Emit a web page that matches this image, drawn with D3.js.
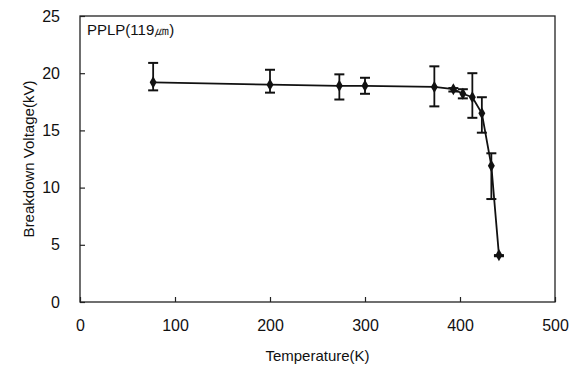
<!DOCTYPE html>
<html>
<head>
<meta charset="utf-8">
<script src="https://cdn.jsdelivr.net/npm/d3@7"></script>
<style>
  body { margin: 0; background: #fff; }
  svg text { font-family: "Liberation Sans", Arial, sans-serif; fill: #111; }
</style>
</head>
<body>
<svg id="chart" width="575" height="369"></svg>
<script>
// Temperature (K) and breakdown voltage (kV)
const temps = [77, 200, 273, 300, 373, 393, 403, 413, 423, 433, 441];
const voltage = [19.2, 19.0, 18.9, 18.9, 18.8, 18.6, 18.2, 17.9, 16.5, 11.9, 4.1];
const errHigh = [20.9, 20.3, 19.9, 19.6, 20.6, 18.7, 18.6, 20.0, 17.9, 13.0, 4.1];
const errLow = [18.5, 18.3, 17.7, 18.2, 17.1, 18.4, 17.8, 16.1, 14.8, 9.0, 4.0];
const xTicks = [0, 100, 200, 300, 400, 500];
const yTicks = [0, 5, 10, 15, 20, 25];

const svg = d3.select("#chart");
const margin = { top: 16, right: 20, bottom: 67, left: 80 };
const width = 575 - margin.left - margin.right;
const height = 369 - margin.top - margin.bottom;

const g = svg.append("g").attr("transform", `translate(${margin.left},${margin.top})`);

const x = d3.scaleLinear().domain([0, 500]).range([0, width]);
const y = d3.scaleLinear().domain([0, 25]).range([height, 0]);

// frame
g.append("rect")
  .attr("width", width)
  .attr("height", height)
  .attr("fill", "none")
  .attr("stroke", "#222")
  .attr("stroke-width", 1.3);

// X axis (ticks point inward)
g.append("g")
  .attr("class", "x-axis")
  .attr("transform", `translate(0,${height})`)
  .call(d3.axisBottom(x).tickValues(xTicks).tickSizeInner(-5).tickSizeOuter(0).tickPadding(18))
  .call((ax) => ax.select(".domain").remove())
  .selectAll("text")
  .style("font-size", "16px");

// Y axis
g.append("g")
  .attr("class", "y-axis")
  .call(d3.axisLeft(y).tickValues(yTicks).tickSizeInner(-5).tickSizeOuter(0).tickPadding(20))
  .call((ax) => ax.select(".domain").remove())
  .selectAll("text")
  .style("font-size", "16px");

g.selectAll(".x-axis line, .y-axis line").attr("stroke", "#222").attr("stroke-width", 1.2);

// axis titles
svg.append("text")
  .attr("x", margin.left + width / 2)
  .attr("y", 361)
  .attr("text-anchor", "middle")
  .style("font-size", "15px")
  .text("Temperature(K)");

svg.append("text")
  .attr("transform", `translate(34,${margin.top + height / 2}) rotate(-90)`)
  .attr("text-anchor", "middle")
  .style("font-size", "15px")
  .text("Breakdown Voltage(kV)");

// sample label
g.append("text")
  .attr("x", 7)
  .attr("y", 19)
  .style("font-size", "15px")
  .text("PPLP(119㎛)");

const data = temps.map((t, i) => ({ t, v: voltage[i], hi: errHigh[i], lo: errLow[i] }));

// error bars
const eb = g.selectAll(".err").data(data).enter().append("g").attr("class", "err");
eb.append("line")
  .attr("x1", (d) => x(d.t)).attr("x2", (d) => x(d.t))
  .attr("y1", (d) => y(d.hi)).attr("y2", (d) => y(d.lo))
  .attr("stroke", "#111").attr("stroke-width", 1.8);
["hi", "lo"].forEach((k) => {
  eb.append("line")
    .attr("x1", (d) => x(d.t) - 5).attr("x2", (d) => x(d.t) + 5)
    .attr("y1", (d) => y(d[k])).attr("y2", (d) => y(d[k]))
    .attr("stroke", "#111").attr("stroke-width", 2);
});

// line
const line = d3.line().x((d) => x(d.t)).y((d) => y(d.v));
g.append("path")
  .datum(data)
  .attr("fill", "none")
  .attr("stroke", "#111")
  .attr("stroke-width", 1.8)
  .attr("d", line);

// diamond markers
g.selectAll(".pt")
  .data(data)
  .enter()
  .append("path")
  .attr("class", "pt")
  .attr("transform", (d) => `translate(${x(d.t)},${y(d.v)})`)
  .attr("d", d3.symbol(d3.symbolDiamond, 42)())
  .attr("fill", "#111");
</script>
</body>
</html>
